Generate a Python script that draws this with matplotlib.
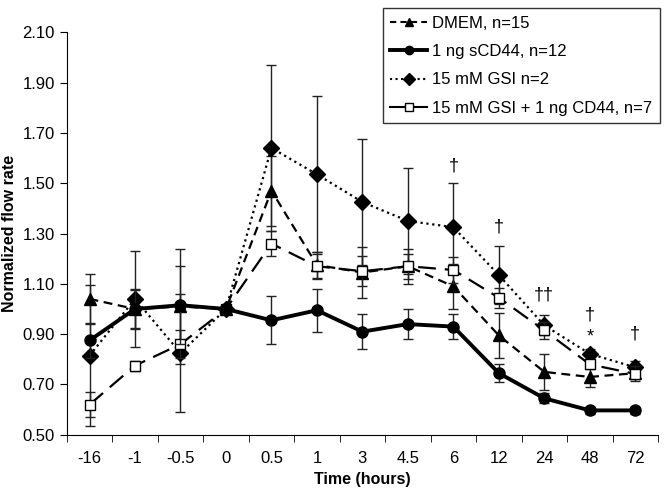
import matplotlib.pyplot as plt
from matplotlib.lines import Line2D

plt.rcParams['font.family'] = ['Liberation Sans', 'DejaVu Sans']

times = ['-16', '-1', '-0.5', '0', '0.5', '1', '3', '4.5', '6', '12', '24', '48', '72']

dmem = [1.04, 1.00, 1.01, 1.00, 1.47, 1.175, 1.145, 1.17, 1.09, 0.895, 0.75, 0.73, 0.745]
dmem_err = [0.10, 0.08, 0.23, 0.0, 0.14, 0.05, 0.10, 0.07, 0.09, 0.09, 0.07, 0.04, 0.02]

scd44 = [0.875, 1.00, 1.015, 1.00, 0.955, 0.995, 0.91, 0.94, 0.93, 0.745, 0.645, 0.597, 0.597]
scd44_err = [0.07, 0.075, 0.155, 0.0, 0.095, 0.085, 0.07, 0.06, 0.05, 0.035, 0.02, 0.015, 0.015]

gsi = [0.815, 1.04, 0.825, 1.00, 1.64, 1.535, 1.425, 1.35, 1.325, 1.135, 0.935, 0.822, 0.768]
gsi_err = [0.28, 0.19, 0.235, 0.0, 0.33, 0.31, 0.25, 0.21, 0.175, 0.115, 0.04, 0.02, 0.025]

gsi_cd44 = [0.62, 0.775, 0.86, 1.00, 1.26, 1.17, 1.15, 1.17, 1.155, 1.045, 0.915, 0.78, 0.742]
gsi_cd44_err = [0.05, 0.02, 0.055, 0.0, 0.05, 0.05, 0.06, 0.05, 0.05, 0.04, 0.035, 0.02, 0.03]

# significance marks: (category index, y value, text)
marks = [(8, 1.57, '†'), (9, 1.325, '†'), (10, 1.055, '††'),
         (11, 0.975, '†'), (11, 0.89, '*'), (12, 0.90, '†')]

x = list(range(len(times)))

fig = plt.figure(figsize=(6.68, 4.88), dpi=100)
ax = fig.add_axes([0.100, 0.109, 0.885, 0.825])

eb = dict(ecolor='#222222', elinewidth=1.0, capsize=3.5, capthick=1.0)

ax.errorbar(x, gsi, yerr=gsi_err, color='black', linestyle=':', linewidth=1.6,
            marker='D', markersize=8, **eb, zorder=3)
ax.errorbar(x, dmem, yerr=dmem_err, color='black', linestyle=(0, (4, 2.5)), linewidth=1.6,
            marker='^', markersize=8, **eb, zorder=3)
ax.errorbar(x, gsi_cd44, yerr=gsi_cd44_err, color='black', linestyle=(0, (8, 4)), linewidth=1.6,
            marker='s', markersize=7, markerfacecolor='white', markeredgewidth=1.0, **eb, zorder=4)
ax.errorbar(x, scd44, yerr=scd44_err, color='black', linestyle='-', linewidth=2.8,
            marker='o', markersize=8, **eb, zorder=5)

for i, y, t in marks:
    ax.text(i, y, t, ha='center', va='center', fontsize=13)

ax.set_xlim(-0.5, len(times) - 0.5)
ax.set_ylim(0.5, 2.1)
ax.set_yticks([0.5 + 0.2 * k for k in range(9)])
ax.set_yticklabels(['%.2f' % (0.5 + 0.2 * k) for k in range(9)])
ax.set_xticks(x)
ax.set_xticklabels(times)
ax.set_xticks([i - 0.5 for i in range(len(times) + 1)], minor=True)
ax.tick_params(axis='x', which='major', length=0, pad=12, labelsize=12)
ax.tick_params(axis='x', which='minor', length=5, direction='out')
ax.tick_params(axis='y', length=5, direction='out', labelsize=12)

for s in ['top', 'right']:
    ax.spines[s].set_visible(False)

ax.set_xlabel('Time (hours)', fontsize=11.5, fontweight='bold', labelpad=4)
ax.set_ylabel('Normalized flow rate', fontsize=11.5, fontweight='bold')
ax.yaxis.set_label_coords(-0.084, 0.5)

handles = [
    Line2D([], [], color='black', linestyle=(0, (3, 2)), linewidth=1.5, marker='^', markersize=6),
    Line2D([], [], color='black', linestyle='-', linewidth=2.8, marker='o', markersize=6),
    Line2D([], [], color='black', linestyle=':', linewidth=1.5, marker='D', markersize=6),
    Line2D([], [], color='black', linestyle='-', linewidth=1.5, marker='s', markersize=6,
           markerfacecolor='white', markeredgewidth=1.0),
]
labels = ['DMEM, n=15', '1 ng sCD44, n=12', '15 mM GSI n=2', '15 mM GSI + 1 ng CD44, n=7']
leg = fig.legend(handles, labels, loc='upper right', bbox_to_anchor=(1.0, 1.0),
                 fontsize=12, frameon=True, fancybox=False, edgecolor='black',
                 handlelength=2.2, handletextpad=0.3, labelspacing=0.8, borderpad=0.45)
leg.get_frame().set_linewidth(1.0)

fig.savefig('out.png', dpi=100)
